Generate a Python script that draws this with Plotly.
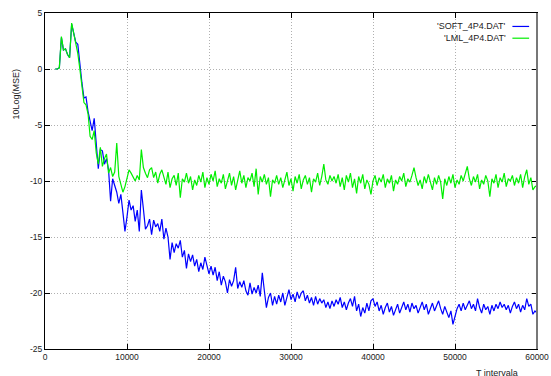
import plotly.graph_objects as go

# Sample positions (T intervals), one every 250 starting at 1250
x_start = 1250
x_step = 250

soft_4p4 = [
    0.0, 0.0, 0.1, 2.8, 1.7, 1.8, 1.3, 1.0, 4.0, 3.3,
    2.4, 2.2, 0.3, -1.2, -2.6, -2.5, -3.8, -4.8, -5.5, -4.4,
    -6.5, -8.9, -7.2, -7.3, -8.5, -8.0, -9.0, -11.8, -9.8, -10.4,
    -11.0, -12.0, -11.2, -12.8, -14.5, -13.2, -11.7, -12.6, -12.2, -13.6,
    -12.6, -14.5, -10.8, -12.5, -14.3, -14.0, -13.4, -14.8, -13.5, -14.1,
    -13.8, -14.5, -13.4, -15.2, -14.2, -15.0, -17.0, -15.5, -16.4, -15.6,
    -16.0, -15.3, -16.8, -16.2, -17.8, -16.5, -17.2, -16.6, -17.6, -17.0,
    -18.1, -17.3, -17.9, -16.8, -17.5, -18.3, -17.6, -18.4, -17.7, -18.9,
    -18.1, -19.3, -18.5, -19.0, -20.0, -18.8, -19.4, -18.9, -17.7, -19.6,
    -19.0, -19.5, -18.9, -19.8, -20.2, -19.1, -20.1, -19.5, -20.0, -19.3,
    -20.3, -18.2, -19.8, -21.3, -20.4, -20.0, -21.1, -20.3, -21.0, -20.2,
    -20.8, -20.0, -21.1, -20.4, -19.7, -20.6, -20.1, -20.8, -19.9, -20.5,
    -20.0, -19.8, -20.7, -20.2, -20.9, -20.4, -21.1, -20.3, -21.0, -20.5,
    -20.9, -20.6, -21.3, -20.8, -21.4, -20.7, -21.2, -20.6, -21.0, -20.4,
    -21.3, -20.8, -21.5, -20.9, -20.5, -21.2, -20.3, -21.6, -21.0, -22.1,
    -21.3, -21.8, -20.9, -21.6, -20.7, -20.5, -21.2, -20.8, -21.6, -21.1,
    -21.9, -21.3, -20.9, -21.7, -21.2, -22.0, -21.4, -21.0, -21.8, -21.3,
    -20.8, -21.5, -21.0, -21.7, -20.9, -21.4, -21.1, -21.8, -21.2, -20.8,
    -21.5, -21.0, -21.9, -21.3, -20.9, -21.6, -21.1, -20.7, -21.4, -21.9,
    -21.2, -21.7, -22.2, -21.6, -22.8, -22.1, -21.4, -21.0, -21.6, -20.9,
    -21.5, -21.1, -20.7, -21.4, -21.0, -21.6, -20.5, -21.3, -21.8, -21.0,
    -21.5, -21.2, -21.9, -21.1, -21.6, -21.0, -21.4, -20.8, -21.3, -21.0,
    -21.5, -21.1, -21.8, -21.2, -20.8, -21.4, -21.0, -21.7, -21.1, -21.5,
    -20.5, -21.2, -21.0, -21.9, -21.6, -21.8,
]

lml_4p4 = [
    0.0, 0.0, 0.1, 2.9, 1.7, 1.8, 1.3, 1.0, 4.1, 3.3,
    2.5, 1.4, 0.0, -1.8, -3.0, -3.2, -4.0, -6.0, -6.3, -5.5,
    -7.5, -8.5, -7.0, -8.7, -8.0, -7.6, -9.3, -8.8, -9.6, -9.2,
    -6.6, -9.6, -10.2, -11.0, -10.5, -9.8, -9.0, -9.3, -9.7, -10.0,
    -9.5, -9.9, -7.2, -8.8, -9.3, -9.7, -9.0, -8.8, -9.7, -9.2,
    -10.2, -9.4, -9.0, -9.8, -10.3, -9.2, -10.6, -9.8, -9.5, -10.4,
    -9.3, -11.5, -9.8, -10.1, -9.3, -10.2, -9.6, -10.8, -9.9, -10.4,
    -9.5, -10.1, -9.2, -10.6, -9.7, -10.3, -9.4, -10.0, -9.1, -10.5,
    -9.8, -10.2, -9.4, -10.7, -9.9, -9.3, -10.4, -9.6, -10.8, -9.9,
    -9.1, -10.2, -9.5, -10.6, -9.7, -10.0, -9.3, -10.5, -8.9, -11.2,
    -9.6, -10.1, -9.4, -10.3, -9.7, -11.4, -9.9, -10.2, -9.5, -10.3,
    -9.7, -10.6, -9.9, -9.2, -10.4, -9.8, -10.9, -9.6, -10.2, -9.4,
    -10.7, -9.9, -9.5, -10.3, -9.7, -11.0, -9.8, -10.1, -9.3, -10.4,
    -9.6, -8.5, -9.9, -10.3, -9.5, -10.0, -9.6, -10.2, -9.4, -10.5,
    -9.7, -10.8, -9.5, -10.1, -9.3, -10.6, -9.8, -11.1, -9.6, -10.2,
    -9.4, -10.7, -9.9, -10.3, -11.2, -10.0, -9.5, -10.4, -9.7, -10.1,
    -9.4, -10.6, -9.8, -10.2, -9.5, -10.9, -9.9, -10.3, -9.6, -10.0,
    -9.3, -10.5, -9.8, -10.1, -9.5, -8.8, -9.7, -10.4, -9.9, -10.7,
    -9.6, -10.2, -9.4, -10.0, -10.8, -9.7, -10.3, -9.5, -10.1, -11.6,
    -9.8, -10.4, -9.6, -10.2, -9.4, -10.6, -9.9, -10.3, -9.5, -10.0,
    -9.3, -8.7, -9.8, -10.4, -9.6, -10.1, -9.4, -10.7, -9.9, -10.3,
    -9.5, -10.0, -11.4, -9.8, -10.2, -9.4, -10.6, -9.7, -10.1, -9.3,
    -10.5, -9.8, -10.0, -9.5, -10.4, -9.7, -10.2, -9.4, -10.6, -9.6,
    -9.0, -10.3, -9.7, -10.8, -10.5, -10.4,
]

series_names = ["'SOFT_4P4.DAT'", "'LML_4P4.DAT'"]
series_colors = ["#0000ff", "#00ee00"]

x_ticks = [0, 10000, 20000, 30000, 40000, 50000, 60000]
y_ticks = [-25, -20, -15, -10, -5, 0, 5]

x_soft = [x_start + x_step * i for i in range(len(soft_4p4))]
x_lml = [x_start + x_step * i for i in range(len(lml_4p4))]

FONT = "Liberation Sans, Arial, sans-serif"

fig = go.Figure()
fig.add_trace(go.Scatter(x=x_soft, y=soft_4p4, mode="lines", name=series_names[0],
                         line=dict(color=series_colors[0], width=1.2), showlegend=False))
fig.add_trace(go.Scatter(x=x_lml, y=lml_4p4, mode="lines", name=series_names[1],
                         line=dict(color=series_colors[1], width=1.2), showlegend=False))

axis_common = dict(
    showline=True, linecolor="black", linewidth=1, mirror="allticks",
    ticks="inside", ticklen=5, tickcolor="black",
    showgrid=True, gridcolor="#b0b0b0", griddash="1px,2px", gridwidth=1,
    zeroline=False, automargin=False,
    tickfont=dict(family=FONT, size=8.5, color="#222"),
)

fig.update_xaxes(range=[0, 60000], tickvals=x_ticks, ticktext=[str(v) for v in x_ticks], **axis_common)
fig.update_yaxes(range=[-25, 5], tickvals=y_ticks, ticktext=[str(v) for v in y_ticks], **axis_common)

annotations = [
    dict(text="10Log(MSE)", xref="paper", yref="paper", x=-0.059, y=0.76,
         textangle=-90, showarrow=False, xanchor="center", yanchor="middle",
         font=dict(family=FONT, size=9, color="#222")),
    dict(text="T intervala", xref="paper", yref="paper", x=0.918, y=-0.072,
         showarrow=False, xanchor="center", yanchor="middle",
         font=dict(family=FONT, size=9, color="#222")),
]
shapes = []
legend_y = [0.96, 0.925]
for name, color, ly in zip(series_names, series_colors, legend_y):
    annotations.append(dict(text=name, xref="paper", yref="paper", x=0.942, y=ly,
                            showarrow=False, xanchor="right", yanchor="middle",
                            font=dict(family=FONT, size=9, color="#222")))
    shapes.append(dict(type="line", xref="paper", yref="paper", x0=0.95, x1=0.984,
                       y0=ly, y1=ly, line=dict(color=color, width=1.2)))
shapes.append(dict(type="line", xref="paper", yref="paper", x0=1, x1=1, y0=0, y1=1,
                   line=dict(color="#777", width=2)))

fig.update_layout(
    width=551, height=376,
    margin=dict(l=45, r=14, t=13, b=27),
    paper_bgcolor="white", plot_bgcolor="white",
    annotations=annotations, shapes=shapes,
    showlegend=False,
)

# Remove the default page margin so the figure fills the window exactly
fig.write_html(
    "out.html",
    config={"displayModeBar": False},
    post_script="document.body.style.margin='0';document.body.style.overflow='hidden';",
)
